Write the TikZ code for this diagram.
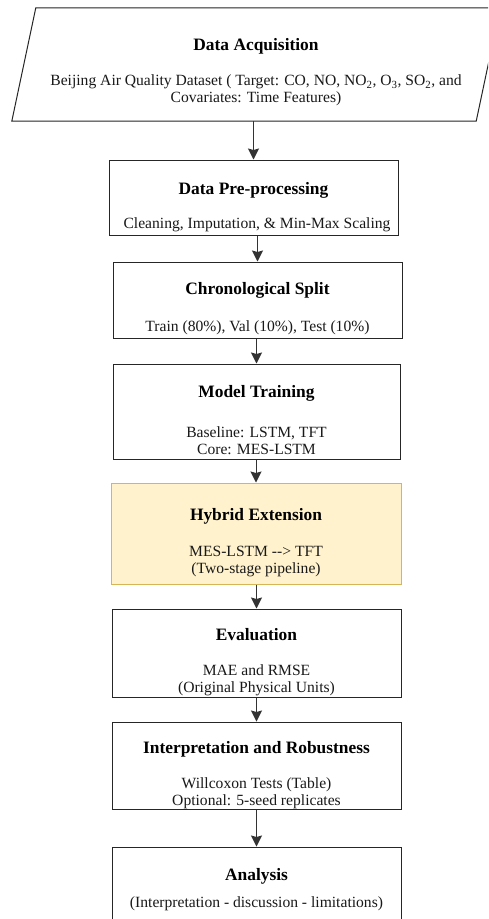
\documentclass[tikz,border=0pt]{standalone}
\usepackage{fontspec}
\setmainfont{Liberation Serif}
\usetikzlibrary{arrows.meta,positioning,calc}
\definecolor{hybridfill}{HTML}{FFF2CC}
\definecolor{hybridline}{HTML}{D6B656}

\begin{document}
\begin{tikzpicture}[x=1pt,y=-1pt,
    stagebox/.style={draw=black!85, line width=1pt, inner sep=0pt},
    hybridbox/.style={stagebox, draw=hybridline, fill=hybridfill},
    stagetitle/.style={font=\fontsize{17.4}{20}\selectfont\bfseries, inner sep=0pt, text=black},
    stagetext/.style={font=\fontsize{15.6}{17}\selectfont, align=center, inner sep=0pt, text=black!90},
    flow/.style={draw=black!80, line width=1pt, -{Stealth[length=11pt,width=11pt,inset=1.5pt]}}]
    \useasboundingbox (0,0) rectangle (488,919);
    \fill[white] (0,0) rectangle (488,919);
    \clip (0,0) rectangle (488,919);

    % Data acquisition (parallelogram)
    \node[inner sep=0pt, minimum width=440, minimum height=113] (acq) at (256,64.5) {};
    \draw[stagebox] (acq.north west) -- ([xshift=24]acq.north east) -- (acq.south east) -- ([xshift=-24]acq.south west) -- cycle;
    \node[stagetitle] (acqT) at (256,46) {Data Acquisition};
    \node[stagetext] (acqD) at (256,90.5) {Beijing Air Quality Dataset ( Target: CO, NO, NO\textsubscript{2}, O\textsubscript{3}, SO\textsubscript{2}, and\\Covariates: Time Features)};

    % Pre-processing
    \node[stagebox, minimum width=289, minimum height=75] (prep) at (253.5,197.5) {};
    \node[stagetitle] (prepT) at (253.5,190) {Data Pre-processing};
    \node[stagetext] (prepD) at (257,225) {Cleaning, Imputation, \& Min-Max Scaling};

    % Split
    \node[stagebox, minimum width=289, minimum height=76] (split) at (257.5,300) {};
    \node[stagetitle] (splitT) at (257.5,290) {Chronological Split};
    \node[stagetext] (splitD) at (257.5,328) {Train (80\%), Val (10\%), Test (10\%)};

    % Training
    \node[stagebox, minimum width=287, minimum height=95] (train) at (256.5,411.5) {};
    \node[stagetitle] (trainT) at (256.5,393) {Model Training};
    \node[stagetext] (trainD) at (256.5,440.5) {Baseline: LSTM, TFT\\Core: MES-LSTM};

    % Hybrid
    \node[hybridbox, minimum width=290, minimum height=101] (hybrid) at (256,533.5) {};
    \node[stagetitle] (hybridT) at (256,516) {Hybrid Extension};
    \node[stagetext] (hybridD) at (256,562) {MES-LSTM -{}-{}> TFT\\(Two-stage pipeline)};

    % Evaluation
    \node[stagebox, minimum width=289, minimum height=88] (eval) at (256.5,653) {};
    \node[stagetitle] (evalT) at (256.5,635) {Evaluation};
    \node[stagetext] (evalD) at (256.5,680) {MAE and RMSE\\(Original Physical Units)};

    % Robustness
    \node[stagebox, minimum width=289, minimum height=87] (robust) at (256.5,765.5) {};
    \node[stagetitle] (robustT) at (256.5,749) {Interpretation and Robustness};
    \node[stagetext] (robustD) at (256.5,793) {Willcoxon Tests (Table)\\Optional: 5-seed replicates};

    % Analysis
    \node[stagebox, minimum width=289, minimum height=88] (analysis) at (256.5,891) {};
    \node[stagetitle] (analysisT) at (256.5,876) {Analysis};
    \node[stagetext] (analysisD) at (256.5,904) {(Interpretation - discussion - limitations)};

    % Arrows
    \foreach \a/\b in {acq/prep, prep/split, split/train, train/hybrid, hybrid/eval, eval/robust, robust/analysis}
        \draw[flow] (\b.north |- \a.south) -- (\b.north);
\end{tikzpicture}
\end{document}
